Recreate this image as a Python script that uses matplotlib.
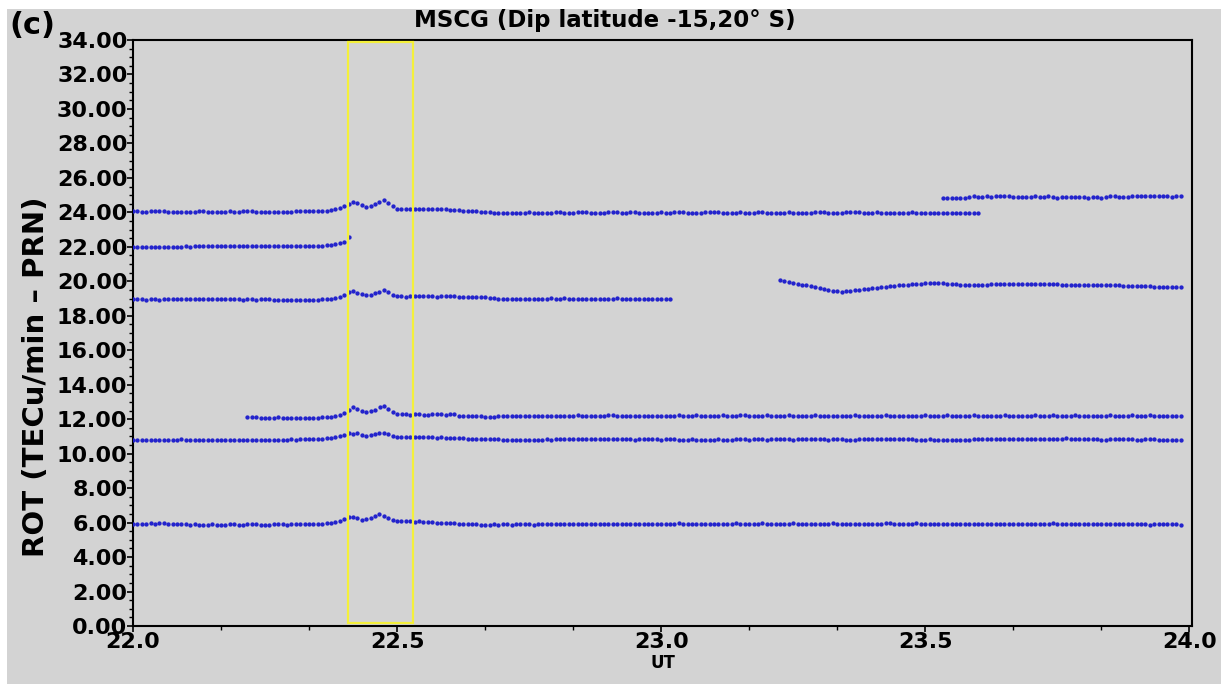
import numpy as np
import matplotlib as mpl
mpl.use('Agg')
import matplotlib.pyplot as plt
from matplotlib.patches import Rectangle
from matplotlib.ticker import MultipleLocator, FormatStrFormatter

# 30 s sampling, times in UT hours
step = 1.0 / 120

# each series: start time, base level, offsets from base (hundredths of TECu/min)
a_start, a_base = 22.0, 24.0
a_off = [5, 6, 4, 3, 5, 6, 7, 5, 4, 2, 3, 3,
         4, 2, 3, 5, 6, 4, 3, 3, 2, 4, 5, 4,
         3, 5, 6, 5, 3, 1, 2, 0, 1, 3, 4, 4,
         3, 5, 6, 8, 9, 7, 6, 8, 10, 13, 17, 24,
         35, 50, 60, 52, 40, 33, 38, 48, 62, 72, 55, 35,
         22, 18, 17, 19, 18, 17, 18, 19, 18, 17, 19, 18,
         16, 14, 11, 9, 8, 6, 5, 3, 2, 0, -1, -2,
         -3, -3, -2, -4, -3, -1, 0, -2, -3, -4, -2, -1,
         1, 0, -2, -3, -1, 0, 2, 1, -1, -2, -3, -2,
         0, 1, 0, -2, -1, 0, 1, -1, -3, -4, -3, -1,
         0, -1, -2, 0, 1, 0, -2, -3, -2, -1, 0, 1,
         2, 0, -1, -2, -3, -1, 0, -1, -2, -1, 0, 1,
         -1, -2, -3, -2, -1, 0, -1, -3, -4, -2, -1, 0,
         1, 0, -1, -2, -3, -2, 0, 1, 2, 0, -1, -2,
         -1, 0, -1, -2, -3, -4, -3, -2, -1, 0, -1, -2,
         -3, -5, -4, -3, -2, -3, -4, -5, -4, -3, -4, -5,
         -6]

b_start, b_base = 23.5333, 24.85
b_off = [0, 0, 0, 0, 0, 0, 4, 8, 5, 2, 8, 6,
         9, 7, 8, 10, 3, 4, 6, 5, 6, 7, 4, 3,
         7, 5, 1, 4, 6, 4, 3, 4, 2, 1, 5, 6,
         1, 4, 7, 7, 4, 3, 6, 7, 8, 8, 9, 9,
         10, 7, 8, 8, 6, 7, 10]

c_start, c_base = 22.0, 22.0
c_off = [-3, -2, -1, -2, 0, -1, 0, 1, 0, 1, 0, 1,
         2, 1, 2, 2, 3, 2, 3, 3, 2, 3, 4, 3,
         3, 4, 4, 3, 4, 5, 4, 4, 5, 4, 5, 5,
         6, 5, 5, 6, 5, 6, 6, 7, 8, 10, 14, 24,
         30, 58]

d_start, d_base = 22.0, 18.9
d_off = [5, 6, 5, 4, 5, 6, 4, 5, 7, 6, 5, 6,
         7, 8, 6, 7, 5, 6, 7, 6, 8, 9, 7, 6,
         5, 4, 5, 6, 4, 5, 6, 5, 4, 3, 4, 3,
         2, 3, 4, 3, 2, 3, 4, 5, 6, 9, 13, 20,
         33, 45, 52, 44, 35, 30, 33, 40, 50, 62, 45, 32,
         25, 22, 21, 23, 22, 24, 25, 24, 23, 21, 22, 23,
         24, 22, 20, 21, 19, 18, 20, 19, 16, 13, 11, 10,
         9, 8, 10, 9, 7, 8, 9, 10, 8, 7, 9, 11,
         10, 9, 13, 10, 8, 9, 10, 8, 7, 9, 10, 8,
         9, 10, 11, 9, 8, 9, 10, 8, 7, 8, 9, 10,
         8, 9, 10]

e_start, e_base = 23.225, 19.8
e_off = [27, 21, 16, 11, 6, 1, -4, -9, -14, -19, -24, -29,
         -34, -38, -40, -38, -35, -32, -29, -26, -23, -20, -17, -14,
         -11, -8, -5, -3, -1, 1, 3, 5, 7, 8, 9, 10,
         9, 8, 6, 4, 2, 0, -2, -3, -4, -3, -1, 1,
         3, 4, 5, 6, 5, 4, 5, 6, 7, 6, 5, 4,
         5, 6, 4, 2, 0, -1, -2, -1, 0, -2, -3, -2,
         -1, 0, -2, -3, -4, -3, -5, -6, -5, -7, -8, -9,
         -10, -11, -12, -11, -13, -14, -15, -16]

f_start, f_base = 22.2167, 12.1
f_off = [0, 0, 0, -1, -2, -3, -1, 0, -2, -3, -3, -4,
         -2, -1, -1, -2, -1, 0, 2, 5, 9, 14, 25, 45,
         58, 50, 40, 33, 36, 45, 58, 65, 50, 30, 22, 20,
         18, 17, 18, 19, 17, 16, 18, 19, 20, 17, 18, 19,
         10, 8, 9, 7, 6, 8, 5, 4, 5, 6, 7, 8,
         9, 10, 11, 9, 8, 10, 11, 10, 9, 8, 10, 11,
         9, 10, 8, 12, 9, 10, 11, 9, 8, 10, 12, 16,
         10, 9, 8, 10, 11, 9, 7, 8, 9, 10, 9, 8,
         10, 11, 12, 10, 9, 11, 12, 10, 9, 8, 10, 11,
         12, 10, 9, 11, 12, 13, 11, 10, 9, 11, 12, 10,
         9, 10, 11, 12, 10, 9, 8, 10, 11, 12, 10, 9,
         10, 11, 9, 8, 10, 11, 12, 10, 9, 11, 10, 9,
         10, 12, 11, 9, 10, 11, 9, 8, 10, 11, 12, 10,
         9, 10, 11, 13, 10, 9, 8, 10, 11, 12, 10, 9,
         10, 11, 9, 10, 12, 11, 9, 8, 9, 10, 11, 12,
         10, 9, 11, 12, 10, 9, 10, 11, 12, 11, 10, 9,
         10, 11, 9, 10, 12, 11, 9, 10, 11, 12, 10, 9,
         10, 12, 11, 9, 10, 11, 9, 8, 7]

g_start, g_base = 22.0, 10.8
g_off = [2, 1, 2, 1, 0, 1, 2, 1, 0, 1, 2, 3,
         2, 1, 0, 1, -1, 0, 0, 1, 0, -1, 0, 1,
         0, 1, 0, 0, 1, 1, 0, 1, 2, 1, 1, 2,
         3, 2, 3, 4, 5, 4, 5, 7, 9, 12, 16, 20,
         28, 38, 35, 37, 28, 24, 27, 33, 38, 40, 36, 22,
         15, 14, 15, 14, 15, 16, 14, 15, 14, 13, 15, 13,
         12, 11, 10, 8, 6, 7, 5, 4, 3, 4, 5, 3,
         2, 1, 0, -1, 0, -1, -2, 0, 1, 2, 3, 2,
         3, 4, 5, 3, 4, 6, 5, 4, 5, 4, 3, 4,
         5, 4, 3, 5, 4, 3, 2, 3, 4, 5, 4, 3,
         2, 3, 4, 3, 2, 1, 2, 3, 2, 1, 0, 1,
         2, 3, 2, 1, 2, 3, 4, 3, 2, 3, 4, 3,
         2, 3, 4, 5, 4, 3, 2, 3, 4, 5, 6, 5,
         4, 3, 2, 3, 4, 3, 2, 1, 2, 3, 4, 3,
         4, 5, 6, 5, 4, 3, 4, 5, 4, 3, 2, 1,
         2, 3, 2, 1, 0, 1, 0, -1, 0, 1, 2, 3,
         4, 5, 6, 5, 4, 5, 6, 5, 4, 3, 4, 5,
         6, 5, 4, 3, 4, 5, 6, 7, 8, 7, 6, 5,
         4, 3, 4, 5, 2, 1, 3, 5, 6, 5, 4, 3,
         2, 1, 3, 5, 4, 2, 0, -2, 0, 2, 1]

h_start, h_base = 22.0, 5.85
h_off = [5, 6, 7, 8, 10, 9, 11, 10, 8, 9, 7, 6,
         5, 3, 4, 2, 0, 3, 4, 2, 1, 3, 4, 5,
         3, 2, 4, 5, 4, 3, 2, 3, 5, 6, 4, 3,
         5, 4, 6, 7, 8, 6, 7, 9, 11, 14, 19, 25,
         38, 50, 46, 40, 32, 36, 42, 52, 62, 55, 40, 30,
         25, 22, 24, 23, 20, 22, 21, 19, 17, 15, 13, 14,
         12, 10, 9, 8, 6, 7, 5, 3, 2, 3, 4, 3,
         4, 5, 3, 4, 5, 6, 4, 3, 5, 6, 5, 4,
         6, 7, 5, 4, 6, 7, 8, 6, 5, 7, 8, 6,
         7, 8, 6, 5, 7, 8, 9, 8, 6, 7, 8, 9,
         8, 6, 7, 9, 10, 8, 7, 9, 8, 6, 7, 8,
         9, 7, 6, 8, 9, 10, 8, 7, 5, 8, 9, 10,
         8, 9, 7, 6, 8, 9, 10, 9, 7, 6, 8, 9,
         8, 7, 9, 10, 8, 7, 6, 5, 7, 8, 9, 7,
         6, 8, 9, 10, 11, 9, 8, 7, 8, 9, 10, 8,
         7, 8, 6, 5, 7, 8, 9, 7, 6, 4, 5, 6,
         7, 8, 9, 7, 6, 8, 9, 8, 7, 6, 7, 8,
         9, 7, 6, 8, 9, 10, 8, 7, 6, 8, 9, 7,
         6, 5, 7, 8, 6, 7, 5, 4, 6, 7, 8, 6,
         5, 4, 6, 3, 5, 7, 9, 6, 4, 5, 3]

series = [(a_start, a_base, a_off), (b_start, b_base, b_off),
          (c_start, c_base, c_off), (d_start, d_base, d_off),
          (e_start, e_base, e_off), (f_start, f_base, f_off),
          (g_start, g_base, g_off), (h_start, h_base, h_off)]

# highlighted window (UT) and y extent
box_t = (22.407, 22.530)
box_y = (0.2, 33.9)

bg = '#d3d3d3'
fig = plt.figure(figsize=(12.21, 6.84), dpi=100, facecolor='white')
fig.patches.append(Rectangle((7 / 1221, 0), 1, 1 - 9 / 684, transform=fig.transFigure,
                             facecolor=bg, edgecolor='none', zorder=-10))
ax = fig.add_axes([133 / 1221, 58 / 684, 1059 / 1221, 586 / 684])
ax.set_facecolor(bg)

for t0, base, off in series:
    off = np.array(off, dtype=float)
    t = t0 + np.arange(len(off)) * step
    ax.plot(t, base + off / 100, linestyle='none', marker='o', ms=2.1,
            color='#2222cc', mec='#2222cc', zorder=3)

ax.add_patch(Rectangle((box_t[0], box_y[0]), box_t[1] - box_t[0], box_y[1] - box_y[0],
                       fill=False, edgecolor='#f4f03a', lw=1.6, zorder=4))

ax.set_xlim(22.0, 24.005)
ax.set_ylim(0, 34)
ax.xaxis.set_major_locator(MultipleLocator(0.5))
ax.xaxis.set_minor_locator(MultipleLocator(1 / 6))
ax.xaxis.set_major_formatter(FormatStrFormatter('%.1f'))
ax.yaxis.set_major_locator(MultipleLocator(2))
ax.yaxis.set_minor_locator(MultipleLocator(0.5))
ax.yaxis.set_major_formatter(FormatStrFormatter('%.2f'))
ax.tick_params(which='major', direction='out', length=4, width=1.2, labelsize=16, pad=0)
ax.tick_params(which='minor', direction='out', length=3, width=1)
for lab in ax.get_xticklabels() + ax.get_yticklabels():
    lab.set_fontweight('bold')
for s in ax.spines.values():
    s.set_linewidth(1.5)

ax.set_xlabel('UT', fontsize=12, fontweight='bold', labelpad=2)
# y label sits lower than the axes centre in the reference
fig.text(36 / 1221, 1 - 377 / 684, 'ROT (TECu/min – PRN)', rotation=90, ha='center',
         va='center', fontsize=21, fontweight='bold')

fig.text(605 / 1221, 1 - 20 / 684, 'MSCG (Dip latitude -15,20° S)', ha='center', va='center',
         fontsize=16.5, fontweight='bold')
fig.text(9 / 1221, 1 - 26 / 684, '(c)', ha='left', va='center', fontsize=22, fontweight='bold')

fig.savefig('out.png', dpi=100, facecolor=fig.get_facecolor())
